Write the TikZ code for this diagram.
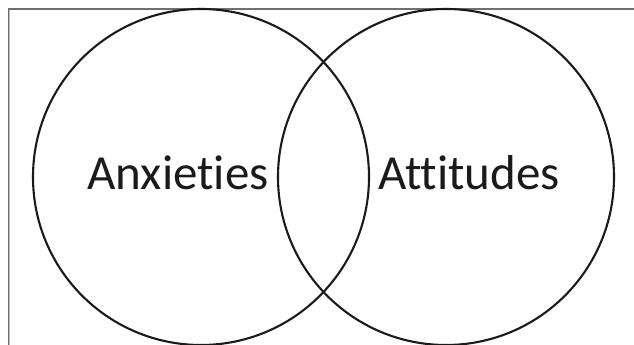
\documentclass[tikz,border=0pt]{standalone}
\usepackage{fontspec}
\setmainfont{Carlito}[Ligatures={NoCommon}]
\usepackage{xcolor}
\definecolor{circleBlack}{RGB}{26, 26, 26}
\definecolor{frameGray}{RGB}{112, 112, 112}
\definecolor{frameLight}{RGB}{185, 185, 185}
\usetikzlibrary{positioning}
\tikzset{
    vennSet/.style={draw=circleBlack, circle, line width=2.1pt, minimum size=336pt, inner sep=0pt},
    setLabel/.style={anchor=base, text=circleBlack, font=\fontsize{49}{54}\selectfont, inner sep=0pt},
    frameLine/.style={draw=frameGray, line width=1.1pt}
}

\begin{document}
\begin{tikzpicture}

    \useasboundingbox (0,0) rectangle (634pt,345pt);

    % --- FRAME ---
    \coordinate (frameBottom) at (8.6pt,0pt);
    \coordinate (frameRight) at (634pt,336pt);
    \draw[draw=frameLight, line width=1pt] ([xshift=1.1pt]frameBottom) -- ++(0,335pt);
    \draw[frameLine] (frameBottom) |- (frameRight);

    % --- SETS ---
    \node[vennSet] (anxSet) at (201pt,168pt) {};
    \node[vennSet] (attSet) at (446pt,168pt) {};

    % --- LABELS ---
    \node[setLabel] (anxLabel) at (178pt,155pt) {Anxieties};
    \node[setLabel] (attLabel) at (469pt,155pt) {Attitudes};

\end{tikzpicture}
\end{document}
